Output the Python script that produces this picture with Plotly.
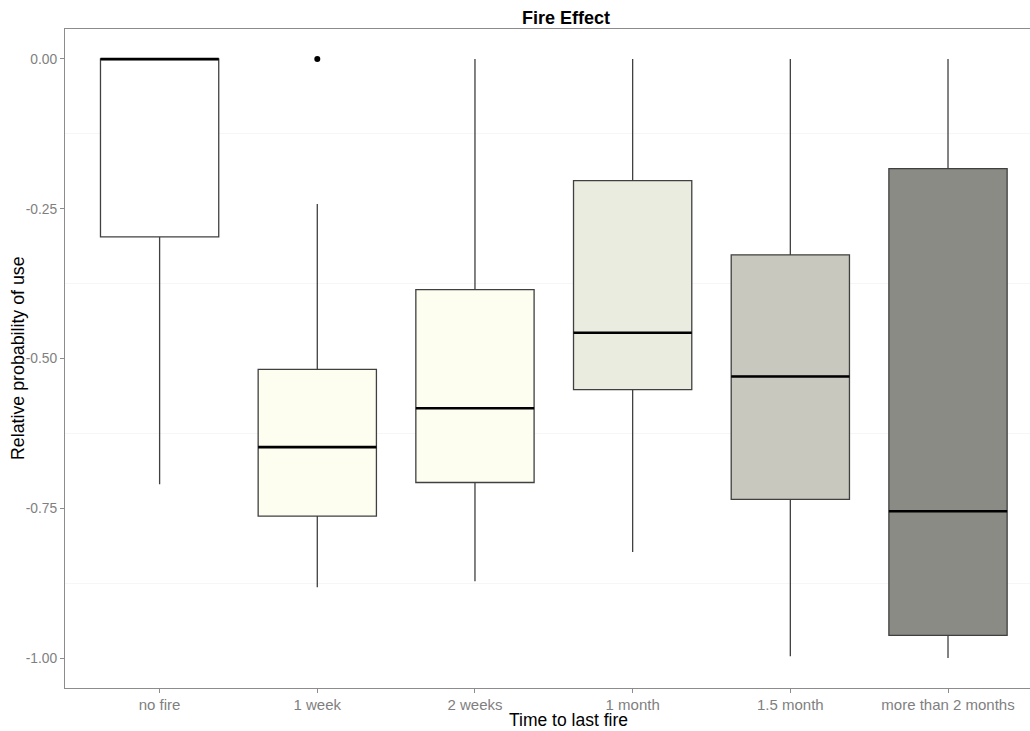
import plotly.graph_objects as go

categories = ["no fire", "1 week", "2 weeks", "1 month", "1.5 month", "more than 2 months"]
upper_whisker = [0.0, -0.242, 0.0, 0.0, 0.0, 0.0]
q3 = [0.0, -0.518, -0.385, -0.203, -0.327, -0.183]
median = [0.0, -0.648, -0.583, -0.457, -0.530, -0.755]
q1 = [-0.297, -0.763, -0.707, -0.552, -0.735, -0.962]
lower_whisker = [-0.710, -0.882, -0.872, -0.823, -0.997, -1.0]
outlier_cat = ["1 week"]
outlier_val = [0.0]
fill_colors = ["#FFFFFF", "#FDFDF0", "#FDFDF0", "#EBECE0", "#C8C8BF", "#8A8B84"]
y_ticks = [0.0, -0.25, -0.5, -0.75, -1.0]
y_minor = [-0.125, -0.375, -0.625, -0.875]

W, H = 1030, 731
L, R, T, B = 65, 0, 29, 43
pw, ph = W - L - R, H - T - B

box_w = 0.75
fig = go.Figure()
for i, c in enumerate(categories):
    fig.add_trace(go.Box(
        x=[i], q1=[q1[i]], median=[median[i]], q3=[q3[i]],
        lowerfence=[lower_whisker[i]], upperfence=[upper_whisker[i]],
        width=box_w, whiskerwidth=0, fillcolor=fill_colors[i],
        line=dict(color="#404040", width=1.3), boxpoints=False,
        showlegend=False, hoverinfo="skip",
    ))

mx, my = [], []
for i, m in enumerate(median):
    mx += [i - box_w / 2, i + box_w / 2, None]
    my += [m, m, None]
fig.add_trace(go.Scatter(x=mx, y=my, mode="lines", line=dict(color="black", width=2.6),
                         showlegend=False, hoverinfo="skip"))

fig.add_trace(go.Scatter(x=[categories.index(c) for c in outlier_cat], y=outlier_val,
                         mode="markers", marker=dict(color="black", size=6),
                         showlegend=False))

fig.update_layout(
    width=W, height=H, autosize=False,
    margin=dict(l=L, r=R, t=T, b=B, pad=0),
    plot_bgcolor="white", paper_bgcolor="white",
    font=dict(family="Liberation Sans, Arial, sans-serif"),
    title=dict(text="<b>Fire Effect</b>", x=566 / W, xref="container", xanchor="center",
               y=1 - 18 / H, yref="container", yanchor="middle",
               font=dict(size=18, color="black")),
    xaxis=dict(range=[-0.6, 5.52], tickvals=list(range(len(categories))), ticktext=categories,
               showline=True, linecolor="#8c8c8c", linewidth=1.3, mirror=True, automargin=False,
               ticks="outside", ticklen=4, tickcolor="#8c8c8c", showgrid=False, zeroline=False,
               ticklabelstandoff=-1,
               tickfont=dict(size=15, color="#7F7F7F")),
    yaxis=dict(range=[-1.05, 0.05], tickvals=y_ticks, ticktext=["%.2f" % v for v in y_ticks],
               showline=True, linecolor="#8c8c8c", linewidth=1.3, automargin=False,
               ticks="outside", ticklen=4, tickcolor="#8c8c8c", showgrid=False, zeroline=False,
               tickfont=dict(size=13.8, color="#7F7F7F"),
               minor=dict(tickvals=y_minor, showgrid=True, gridcolor="#F6F6F6", gridwidth=1)),
    annotations=[
        dict(text="Time to last fire", xref="paper", yref="paper",
             x=(568 - L) / pw, y=-(720 - (H - B)) / ph, xanchor="center", yanchor="middle",
             showarrow=False, font=dict(size=17.5, color="black")),
        dict(text="Relative probability of use", xref="paper", yref="paper", textangle=-90,
             x=(18 - L) / pw, y=(H - B - 358) / ph, xanchor="center", yanchor="middle",
             showarrow=False, font=dict(size=17.8, color="black")),
    ],
)
fig.write_html("out.html", config={"displayModeBar": False},
               post_script="document.body.style.margin='0';document.body.style.overflow='hidden';")
